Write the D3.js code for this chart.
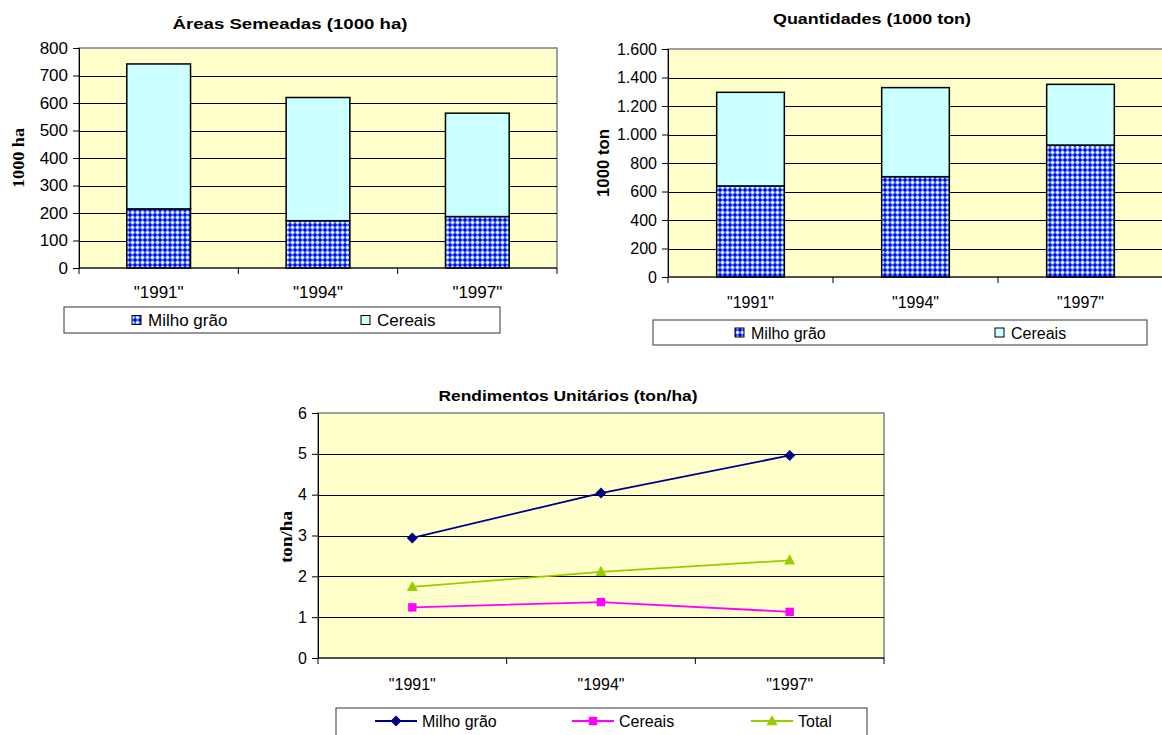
<!DOCTYPE html>
<html><head><meta charset="utf-8">
<script src="https://cdn.jsdelivr.net/npm/d3@7"></script>
<style>
html,body{margin:0;padding:0;background:#fff;}
svg{display:block;}
text{font-family:"Liberation Sans",Arial,sans-serif;fill:#000;}
</style></head>
<body>
<svg id="c" width="1162" height="735"></svg>
<script>
// ---------- DATA ----------
const categories = ['"1991"', '"1994"', '"1997"'];
const seriesNames = ["Milho grão", "Cereais"];
// Áreas Semeadas (1000 ha)
const areaMilho = [215, 172, 187];
const areaCereais = [527, 448, 376];
const areaTicks = [0, 100, 200, 300, 400, 500, 600, 700, 800];
// Quantidades (1000 ton)
const qtyMilho = [639, 704, 926];
const qtyCereais = [657, 625, 426];
const qtyTicks = [0, 200, 400, 600, 800, 1000, 1200, 1400, 1600];
// Rendimentos Unitários (ton/ha)
const yieldNames = ["Milho grão", "Cereais", "Total"];
const yieldMilho = [2.94, 4.04, 4.96];
const yieldCereais = [1.24, 1.37, 1.13];
const yieldTotal = [1.74, 2.11, 2.39];
const yieldTicks = [0, 1, 2, 3, 4, 5, 6];

const svg = d3.select("#c");
const defs = svg.append("defs");
const pat = defs.append("pattern").attr("id", "milho").attr("width", 5).attr("height", 5)
  .attr("patternUnits", "userSpaceOnUse");
pat.append("rect").attr("width", 5).attr("height", 5).attr("fill", "#0000FF");
pat.append("path").attr("d", "M1.5 0.5h2v1h1v2h-1v1h-2v-1h-1v-2h1z").attr("fill", "#CCFFFF");

const PLOT_BG = "#FFFFCC", CEREAIS_FILL = "#CCFFFF";
const fmtPt = d3.formatLocale({decimal: ",", thousands: ".", grouping: [3], currency: ["", ""]}).format(",d");

const diamondSym = {draw(ctx, r) { ctx.moveTo(0, -r); ctx.lineTo(r, 0); ctx.lineTo(0, r); ctx.lineTo(-r, 0); ctx.closePath(); }};
const squareSym = {draw(ctx, r) { ctx.rect(-r, -r, 2 * r, 2 * r); }};
const triSym = {draw(ctx, r) { ctx.moveTo(0, -r * 1.1); ctx.lineTo(r, r * 0.75); ctx.lineTo(-r, r * 0.75); ctx.closePath(); }};

function barChart(cfg) {
  const g = svg.append("g");
  const x = d3.scaleBand().domain(categories).range([cfg.x0, cfg.x1])
    .paddingInner(cfg.pad).paddingOuter(cfg.pad / 2);
  const xb = d3.scaleBand().domain(categories).range([cfg.x0, cfg.x1]);
  const y = d3.scaleLinear().domain([0, cfg.ticks[cfg.ticks.length - 1]]).range([cfg.y1, cfg.y0]);
  g.append("rect").attr("x", cfg.x0).attr("y", cfg.y0).attr("width", cfg.x1 - cfg.x0)
    .attr("height", cfg.y1 - cfg.y0).attr("fill", PLOT_BG).attr("stroke", "#808080").attr("stroke-width", 1.5);
  g.append("g").selectAll("line").data(cfg.ticks.slice(1, -1)).join("line")
    .attr("x1", cfg.x0).attr("x2", cfg.x1).attr("y1", d => Math.round(y(d)) + 0.5).attr("y2", d => Math.round(y(d)) + 0.5)
    .attr("stroke", "#000").attr("stroke-width", 1);
  const rows = categories.map((c, i) => ({cat: c, m: cfg.milho[i], c: cfg.cereais[i]}));
  const stack = d3.stack().keys(["m", "c"])(rows);
  const fills = ["url(#milho)", CEREAIS_FILL];
  stack.forEach((s, si) => {
    g.append("g").selectAll("rect").data(s).join("rect")
      .attr("x", d => x(d.data.cat)).attr("width", x.bandwidth())
      .attr("y", d => y(d[1])).attr("height", d => y(d[0]) - y(d[1]))
      .attr("fill", fills[si]).attr("stroke", "#000").attr("stroke-width", 1.5);
  });
  const ya = g.append("g").attr("transform", `translate(${cfg.x0},0)`)
    .call(d3.axisLeft(y).tickValues(cfg.ticks).tickSize(6).tickPadding(5).tickFormat(cfg.fmt));
  ya.select(".domain").attr("stroke", "#000");
  ya.selectAll("text").style("font-size", cfg.fs + "px").attr("font-family", "Liberation Sans, Arial");
  const xa = g.append("g").attr("transform", `translate(0,${cfg.y1})`);
  xa.append("line").attr("x1", cfg.x0).attr("x2", cfg.x1).attr("stroke", "#000").attr("stroke-width", 1);
  xa.selectAll("line.t").data([cfg.x0, ...categories.map(c => xb(c) + xb.bandwidth())]).join("line").attr("class", "t")
    .attr("x1", d => d).attr("x2", d => d).attr("y1", 0).attr("y2", 6).attr("stroke", "#000");
  xa.selectAll("text").data(categories).join("text")
    .attr("x", d => xb(d) + xb.bandwidth() / 2).attr("y", cfg.xlabY - cfg.y1)
    .attr("text-anchor", "middle").style("font-size", cfg.fs + "px").text(d => d);
  g.append("text").attr("x", cfg.titleX).attr("y", cfg.titleY).attr("text-anchor", "middle")
    .style("font-size", "15px").style("font-weight", "bold")
    .attr("textLength", cfg.titleW).attr("lengthAdjust", "spacingAndGlyphs").text(cfg.title);
  g.append("text").attr("transform", `translate(${cfg.ytX},${cfg.ytY}) rotate(-90)`).attr("text-anchor", "middle")
    .style("font-size", "17px").style("font-weight", "bold").style("font-family", cfg.ytFont)
    .attr("textLength", cfg.ytW).attr("lengthAdjust", "spacingAndGlyphs").text(cfg.ytitle);
  const L = cfg.leg;
  g.append("rect").attr("x", L.x).attr("y", L.y).attr("width", L.w).attr("height", L.h)
    .attr("fill", "#fff").attr("stroke", "#555").attr("stroke-width", 1.2);
  seriesNames.forEach((n, i) => {
    g.append("rect").attr("x", L.sx[i]).attr("y", L.y + L.h / 2 - 4.5).attr("width", 9).attr("height", 9)
      .attr("fill", fills[i]).attr("stroke", "#000").attr("stroke-width", 1);
    g.append("text").attr("x", L.sx[i] + 16).attr("y", L.y + L.h / 2 + 6)
      .style("font-size", cfg.fs + "px").text(n);
  });
}

barChart({
  x0: 79, x1: 557, y0: 48, y1: 268, pad: 0.6, ticks: areaTicks, milho: areaMilho, cereais: areaCereais,
  fmt: d3.format("d"), fs: 17, xlabY: 298,
  title: "Áreas Semeadas (1000 ha)", titleX: 290, titleY: 29, titleW: 235,
  ytitle: "1000 ha", ytX: 24, ytY: 158, ytW: 60, ytFont: "Liberation Serif, Times New Roman, serif",
  leg: {x: 64, y: 307, w: 436, h: 26, sx: [132, 361]}
});
barChart({
  x0: 668, x1: 1163, y0: 49, y1: 277, pad: 0.59, ticks: qtyTicks, milho: qtyMilho, cereais: qtyCereais,
  fmt: fmtPt, fs: 16, xlabY: 308,
  title: "Quantidades (1000 ton)", titleX: 872, titleY: 24, titleW: 198,
  ytitle: "1000 ton", ytX: 609, ytY: 163, ytW: 68, ytFont: "Liberation Sans, Arial, sans-serif",
  leg: {x: 653, y: 320, w: 494, h: 25, sx: [735, 995]}
});

// ---------- Line chart ----------
(function () {
  const x0 = 318, x1 = 884, y0 = 413, y1 = 658;
  const g = svg.append("g");
  const xb = d3.scaleBand().domain(categories).range([x0, x1]);
  const x = d3.scalePoint().domain(categories).range([x0, x1]).padding(0.5);
  const y = d3.scaleLinear().domain([0, 6]).range([y1, y0]);
  g.append("rect").attr("x", x0).attr("y", y0).attr("width", x1 - x0).attr("height", y1 - y0)
    .attr("fill", PLOT_BG).attr("stroke", "#808080").attr("stroke-width", 1.5);
  g.append("g").selectAll("line").data(yieldTicks.slice(1, -1)).join("line")
    .attr("x1", x0).attr("x2", x1).attr("y1", d => Math.round(y(d)) + 0.5).attr("y2", d => Math.round(y(d)) + 0.5)
    .attr("stroke", "#000");
  const ya = g.append("g").attr("transform", `translate(${x0},0)`)
    .call(d3.axisLeft(y).tickValues(yieldTicks).tickSize(6).tickPadding(5).tickFormat(d3.format("d")));
  ya.select(".domain").attr("stroke", "#000");
  ya.selectAll("text").style("font-size", "16px").attr("font-family", "Liberation Sans, Arial");
  const xa = g.append("g").attr("transform", `translate(0,${y1})`);
  xa.append("line").attr("x1", x0).attr("x2", x1).attr("stroke", "#000");
  xa.selectAll("line.t").data([x0, ...categories.map(c => xb(c) + xb.bandwidth())]).join("line").attr("class", "t")
    .attr("x1", d => d).attr("x2", d => d).attr("y1", 0).attr("y2", 6).attr("stroke", "#000");
  xa.selectAll("text").data(categories).join("text")
    .attr("x", d => x(d)).attr("y", 690 - y1).attr("text-anchor", "middle").style("font-size", "16px").text(d => d);

  const series = [
    {name: yieldNames[0], vals: yieldMilho, color: "#000080", sym: diamondSym, size: 5.5},
    {name: yieldNames[1], vals: yieldCereais, color: "#FF00FF", sym: squareSym, size: 4.2},
    {name: yieldNames[2], vals: yieldTotal, color: "#99CC00", sym: triSym, size: 5.5}
  ];
  const line = d3.line().x((d, i) => x(categories[i])).y(d => y(d));
  series.forEach(s => {
    g.append("path").attr("d", line(s.vals)).attr("fill", "none").attr("stroke", s.color).attr("stroke-width", 1.8);
    g.append("g").selectAll("path").data(s.vals).join("path")
      .attr("transform", (d, i) => `translate(${x(categories[i])},${y(d)})`)
      .attr("d", d3.symbol().type(s.sym).size(s.size)).attr("fill", s.color);
  });
  g.append("text").attr("x", 568).attr("y", 401).attr("text-anchor", "middle")
    .style("font-size", "15px").style("font-weight", "bold")
    .attr("textLength", 259).attr("lengthAdjust", "spacingAndGlyphs").text("Rendimentos Unitários (ton/ha)");
  g.append("text").attr("transform", "translate(292,537) rotate(-90)").attr("text-anchor", "middle")
    .style("font-size", "17px").style("font-weight", "bold").style("font-family", "Liberation Serif, Times New Roman, serif")
    .attr("textLength", 52).attr("lengthAdjust", "spacingAndGlyphs").text("ton/ha");
  g.append("rect").attr("x", 336).attr("y", 708).attr("width", 531).attr("height", 30)
    .attr("fill", "#fff").attr("stroke", "#555").attr("stroke-width", 1.2);
  const lx = [375, 572, 751];
  series.forEach((s, i) => {
    g.append("line").attr("x1", lx[i]).attr("x2", lx[i] + 42).attr("y1", 721).attr("y2", 721)
      .attr("stroke", s.color).attr("stroke-width", 1.8);
    g.append("path").attr("transform", `translate(${lx[i] + 21},721)`)
      .attr("d", d3.symbol().type(s.sym).size(s.size)).attr("fill", s.color);
    g.append("text").attr("x", lx[i] + 47).attr("y", 727).style("font-size", "16px").text(s.name);
  });
})();
</script>
</body></html>
